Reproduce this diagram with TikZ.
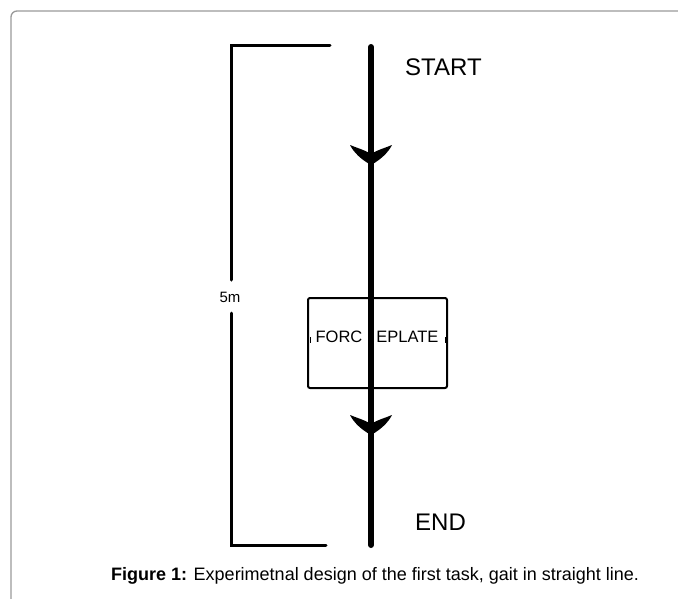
\documentclass[tikz,border=0pt]{standalone}
\usepackage{fontspec}
\setmainfont{Liberation Sans}
\tikzset{
  frameline/.style={draw=black!40, line width=1.3pt, rounded corners=6pt},
  bracketline/.style={line width=3pt, line cap=round, line join=miter},
  pathline/.style={line width=6pt, line cap=round},
  platebox/.style={draw, line width=2pt, rounded corners=2pt},
  bigtext/.style={font=\fontsize{24}{28}\selectfont, inner sep=0pt},
  arrowhead/.pic={
    \fill (0,0) .. controls (-9,-5) and (-17,-12) .. (-21,-20)
      .. controls (-14,-17) and (-6,-15) .. (0,-11)
      .. controls (6,-15) and (14,-17) .. (21,-20)
      .. controls (17,-12) and (9,-5) .. cycle;
  }
}
\begin{document}
\begin{tikzpicture}[x=1pt,y=-1pt]
\useasboundingbox (0,0) rectangle (678,598);
% frame
\draw[frameline] (11,605) -- (11,11) -- (690,11);
% bracket
\coordinate (bt) at (330,45);
\coordinate (btl) at (231,45);
\coordinate (bml) at (231,280);
\coordinate (bmr) at (231,313);
\coordinate (bbl) at (231,545);
\coordinate (bb) at (326,545);
\draw[bracketline] (bt) -- (btl) -- (bml);
\draw[bracketline] (bmr) -- (bbl) -- (bb);
\node[font=\fontsize{15}{18}\selectfont, inner sep=0pt] (len) at (230,297) {5m};
% force plate
\node[platebox, minimum width=139pt, minimum height=90pt, inner sep=0pt] (plate) at (377.5,343) {};
\node[font=\fontsize{16.5}{19}\selectfont, inner sep=0pt] (platelabel) at (377,337) {FORC\hspace{14pt}EPLATE};
\coordinate (tl1) at (310,337);
\coordinate (tl2) at (310,343);
\coordinate (tr1) at (445,337);
\coordinate (tr2) at (445,343);
\draw[line width=1pt] (tl1) -- (tl2) (tr1) -- (tr2);
% main path
\coordinate (pstart) at (371,47);
\coordinate (pend) at (371,545);
\draw[pathline] (pstart) -- (pend);
\pic at (371,165) {arrowhead};
\pic at (371,435) {arrowhead};
% labels
\node[bigtext, anchor=west] (start) at (405,67) {START};
\node[bigtext, anchor=west] (end) at (415,522) {END};
% caption
\node[font=\fontsize{18}{21}\selectfont, inner sep=0pt] (caption) at (375,576) {\textbf{Figure 1:} Experimetnal design of the first task, gait in straight line.};
\end{tikzpicture}
\end{document}
